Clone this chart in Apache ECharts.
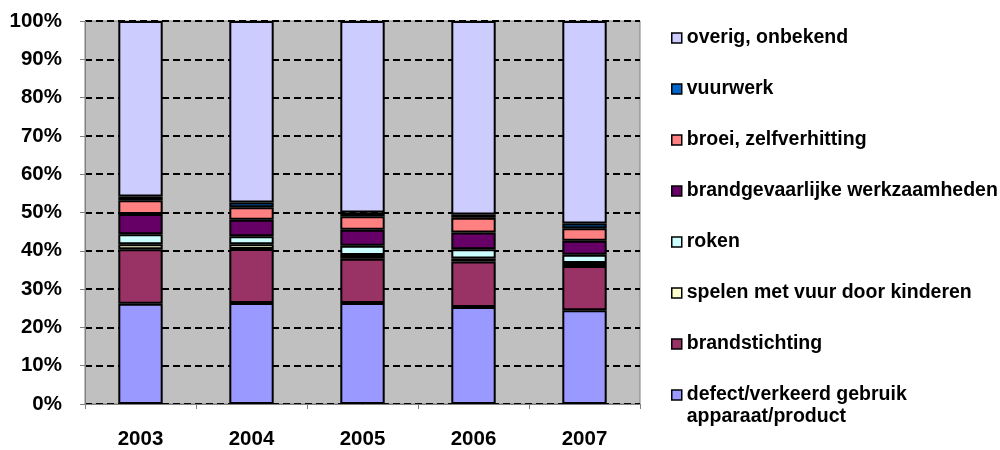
<!DOCTYPE html>
<html>
<head>
<meta charset="utf-8">
<script src="https://cdn.jsdelivr.net/npm/echarts@6/dist/echarts.min.js"></script>
<style>
  html, body { margin: 0; padding: 0; background: #fff; }
  #chart { width: 1000px; height: 450px; }
</style>
</head>
<body>
<div id="chart"></div>
<script>
  // jaren
  var years = ['2003', '2004', '2005', '2006', '2007'];

  // aandelen in % (van onder naar boven gestapeld)
  var defect = [26.2, 26.4, 26.4, 25.3, 24.5];
  var brandstichting = [14.2, 14.1, 11.5, 11.9, 11.5];
  var spelen = [1.3, 1.2, 1.0, 0.8, 0.8];
  var roken = [2.6, 2.1, 2.4, 2.4, 2.2];
  var brandgevaarlijk = [5.3, 4.3, 4.2, 4.4, 3.6];
  var broei = [3.6, 3.3, 3.5, 3.8, 3.3];
  var vuurwerk = [1.0, 1.2, 1.0, 0.9, 1.2];
  var overig = [45.8, 47.4, 50.0, 50.5, 52.9];

  var seriesDefs = [
    {name: 'defect/verkeerd gebruik apparaat/product', data: defect, color: '#9999FF'},
    {name: 'brandstichting', data: brandstichting, color: '#993366'},
    {name: 'spelen met vuur door kinderen', data: spelen, color: '#FFFFCC'},
    {name: 'roken', data: roken, color: '#CCFFFF'},
    {name: 'brandgevaarlijke werkzaamheden', data: brandgevaarlijk, color: '#660066'},
    {name: 'broei, zelfverhitting', data: broei, color: '#FF8080'},
    {name: 'vuurwerk', data: vuurwerk, color: '#0066CC'},
    {name: 'overig, onbekend', data: overig, color: '#CCCCFF'}
  ];

  var font = '"Liberation Sans", Arial, sans-serif';

  var series = [];
  for (var i = 0; i < seriesDefs.length; i++) {
    series.push({
      name: seriesDefs[i].name,
      type: 'bar',
      stack: 'totaal',
      barWidth: '40%',
      data: seriesDefs[i].data,
      itemStyle: {
        color: seriesDefs[i].color,
        borderColor: '#000',
        borderWidth: 2
      }
    });
  }

  // legenda van boven naar onder, zonder de laatste (die heeft twee regels)
  var legendNames = [];
  for (var j = seriesDefs.length - 1; j >= 1; j--) {
    legendNames.push(seriesDefs[j].name);
  }

  var legendText = {
    color: '#000',
    fontFamily: font,
    fontWeight: 'bold',
    fontSize: 19.5,
    lineHeight: 22
  };

  var chart = echarts.init(document.getElementById('chart'), null, {renderer: 'canvas'});
  var option = {
    animation: false,
    backgroundColor: '#fff',
    grid: {
      left: 85,
      top: 21,
      width: 555,
      height: 385,
      show: true,
      backgroundColor: '#C0C0C0',
      borderColor: '#808080',
      borderWidth: 1
    },
    legend: [{
      orient: 'vertical',
      left: 671,
      top: 27,
      padding: 0,
      itemGap: 29,
      itemWidth: 10,
      itemHeight: 10,
      icon: 'rect',
      selectedMode: false,
      data: legendNames,
      itemStyle: {borderColor: '#000', borderWidth: 1.5},
      textStyle: legendText
    }, {
      orient: 'vertical',
      left: 671,
      top: 363,
      padding: 0,
      itemWidth: 10,
      itemHeight: 10,
      icon: 'rect',
      selectedMode: false,
      data: [seriesDefs[0].name],
      itemStyle: {borderColor: '#000', borderWidth: 1.5},
      formatter: function () {
        return '{two|defect/verkeerd gebruik\napparaat/product}';
      },
      textStyle: {
        color: '#000',
        fontFamily: font,
        fontWeight: 'bold',
        fontSize: 19.5,
        lineHeight: 22,
        rich: {
          two: {
            color: '#000',
            fontFamily: font,
            fontWeight: 'bold',
            fontSize: 19.5,
            lineHeight: 22,
            padding: [22, 0, 0, 0]
          }
        }
      }
    }],
    xAxis: {
      type: 'category',
      data: years,
      axisLine: {lineStyle: {color: '#808080', width: 1}},
      axisTick: {show: true, length: 5, lineStyle: {color: '#808080'}},
      axisLabel: {
        color: '#000',
        fontFamily: font,
        fontWeight: 'bold',
        fontSize: 20.5,
        margin: 25
      }
    },
    yAxis: {
      type: 'value',
      min: 0,
      max: 100,
      interval: 10,
      axisLine: {show: true, lineStyle: {color: '#808080', width: 1}},
      axisTick: {show: true, length: 5, lineStyle: {color: '#808080'}},
      axisLabel: {
        formatter: '{value}%',
        color: '#000',
        fontFamily: font,
        fontWeight: 'bold',
        fontSize: 20.5,
        margin: 23
      },
      splitLine: {
        show: true,
        lineStyle: {color: '#000', width: 2, type: [7, 4]}
      }
    },
    series: series
  };
  chart.setOption(option);
</script>
</body>
</html>
